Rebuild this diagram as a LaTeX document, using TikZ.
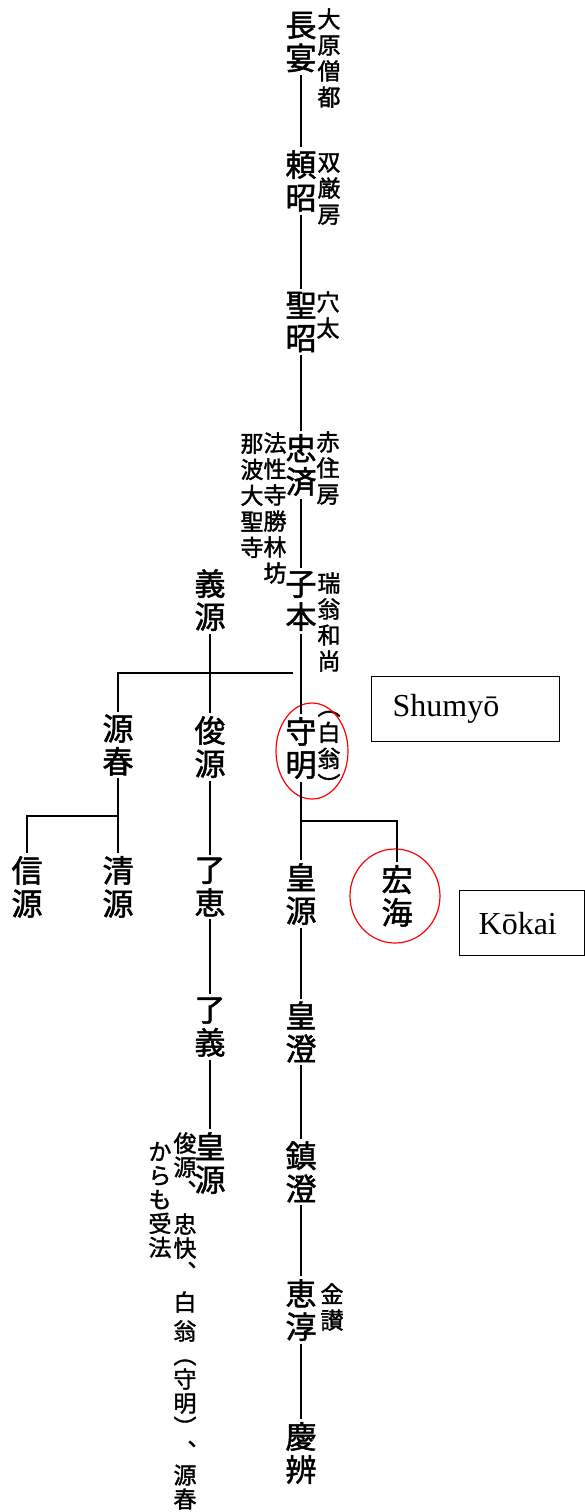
\documentclass[tikz,border=0pt]{standalone}
\usepackage{fontspec}
\setmainfont{Liberation Serif}
\newfontfamily\jp[FakeBold=1.6]{Noto Sans CJK JP}
\begin{document}
\begin{tikzpicture}[x=1pt, y=-1pt, line width=2.8pt,
    big/.style={font=\jp\fontsize{31}{33}\selectfont, align=center, inner sep=1.5pt},
    small/.style={font=\jp\fontsize{23}{26}\selectfont, align=center, inner sep=0pt},
    note/.style={font=\jp\fontsize{23}{24}\selectfont, align=center, inner sep=0pt},
    ring/.style={draw=red, line width=1.2pt},
    tag/.style={draw=black, line width=1.3pt, font=\fontsize{32}{36}\selectfont, align=left, inner ysep=0pt, minimum height=65pt, anchor=north west}]
                \useasboundingbox (0,0) rectangle (585,1512);
                % Nodes
                \node[big] (choen) at (301,42) {長\\宴};
                \node[big] (raisho) at (301,181) {頼\\昭};
                \node[big] (seisho) at (301,322) {聖\\昭};
                \node[big] (chusai) at (301,465) {忠\\済};
                \node[big] (shihon) at (301,601) {子\\本};
                \node[big] (shumyo) at (301,748) {守\\明};
                \node[big] (kogen) at (301,894) {皇\\源};
                \node[big] (kocho) at (301,1032) {皇\\澄};
                \node[big] (chincho) at (301,1172) {鎮\\澄};
                \node[big] (ejun) at (301,1310) {恵\\淳};
                \node[big] (keiben) at (301,1453) {慶\\辨};
                \node[big] (kokai) at (397,896) {宏\\海};
                \node[big] (gigen) at (210,600) {義\\源};
                \node[big] (genshun) at (118,745) {源\\春};
                \node[big] (shungen) at (210,747) {俊\\源};
                \node[big] (shingen) at (27,887) {信\\源};
                \node[big] (seigen) at (118,887) {清\\源};
                \node[big] (ryoe) at (210,887) {了\\恵};
                \node[big] (ryogi) at (210,1027) {了\\義};
                \node[big] (kogenb) at (210,1163) {皇\\源};
                % side notes
                \node[small] (ohara) at (329,58) {大\\原\\僧\\都};
                \node[small] (sogon) at (329,189) {双\\厳\\房};
                \node[small] (ano) at (328,315) {穴\\太};
                \node[small] (shakuju) at (328,468) {赤\\住\\房};
                \node[small] (hossho) at (275,508) {法\\性\\寺\\勝\\林\\坊};
                \node[small] (nawa) at (252,496) {那\\波\\大\\聖\\寺};
                \node[small] (zuio) at (329,622) {瑞\\翁\\和\\尚};
                \node[small] (hakuo) at (329,752) {︵\\白\\翁\\︶};
                \node[small] (kinsan) at (332,1307) {金\\讃};
                \node[note] (jubo) at (185,1321) {俊\\源\\︑\\[9pt]忠\\快\\︑\\[6pt]白\\[5pt]翁\\︵\\守\\明\\︶\\︑\\源\\春};
                \node[note] (karamo) at (160,1200) {か\\ら\\も\\受\\法};
                % Labels
                \node[tag, text width=146pt, inner xsep=21pt] (shumyotag) at (371,676) {Shumyō};
                \node[tag, text width=87pt, inner xsep=19pt] (kokaitag) at (459,890) {Kōkai};
                \draw[ring] (312,751) ellipse [x radius=36pt, y radius=48pt];
                \draw[ring] (395,896) ellipse [x radius=45pt, y radius=47pt];
                % Edges
                \coordinate (gbarend) at (293,673);
                \coordinate (gsplit) at (118,816);
                \coordinate (ssplit) at (301,821);
                \draw (choen) -- (raisho);
                \draw (raisho) -- (seisho);
                \draw (seisho) -- (chusai);
                \draw (chusai) -- (shihon);
                \draw (shihon) -- (shumyo);
                \draw (shumyo) -- (kogen);
                \draw (ssplit) -| (kokai);
                \draw (kogen) -- (kocho);
                \draw (kocho) -- (chincho);
                \draw (chincho) -- (ejun);
                \draw (ejun) -- (keiben);

                \draw (gigen) -- (shungen);
                \draw (genshun.north) |- (gbarend);
                \draw (genshun) -- (seigen);
                \draw (gsplit) -| (shingen);
                \draw (shungen) -- (ryoe);
                \draw (ryoe) -- (ryogi);
                \draw (ryogi) -- (kogenb);
            \end{tikzpicture}
\end{document}
